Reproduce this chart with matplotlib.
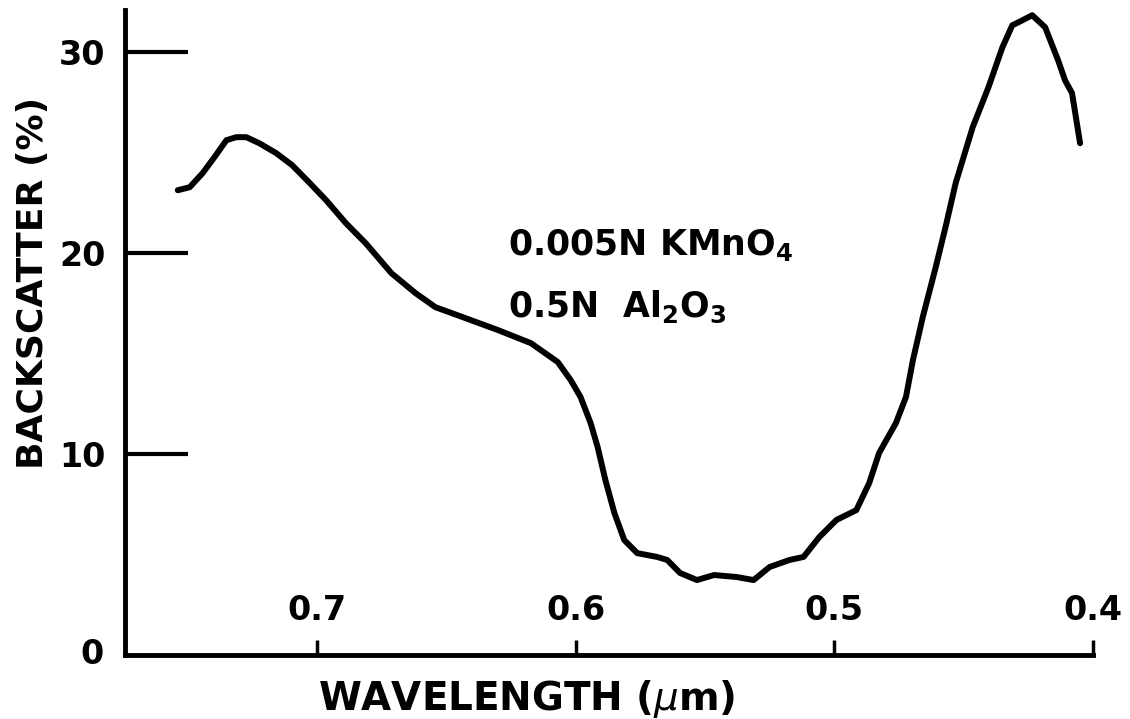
import matplotlib
matplotlib.use("Agg")
import matplotlib.pyplot as plt

# --- DATA ---
wavelength = [0.7538, 0.7492, 0.7442, 0.7396, 0.7350, 0.7312, 0.7273, 0.7223,
              0.7158, 0.7096, 0.7031, 0.6965, 0.6888, 0.6812, 0.6712, 0.6619,
              0.6542, 0.6427, 0.6300, 0.6173, 0.6069, 0.6019, 0.5981, 0.5942,
              0.5915, 0.5885, 0.5850, 0.5812, 0.5762, 0.5685, 0.5646, 0.5596,
              0.5531, 0.5465, 0.5377, 0.5312, 0.5250, 0.5173, 0.5119, 0.5058,
              0.4992, 0.4915, 0.4865, 0.4827, 0.4762, 0.4723, 0.4696, 0.4658,
              0.4608, 0.4570, 0.4531, 0.4465, 0.4404, 0.4350, 0.4312, 0.4288,
              0.4235, 0.4185, 0.4135, 0.4108, 0.4081, 0.4050]
backscatter = [23.13, 23.28, 23.98, 24.78, 25.62, 25.77, 25.77, 25.47,
               24.98, 24.38, 23.53, 22.64, 21.49, 20.50, 19.00, 18.01,
               17.31, 16.77, 16.17, 15.52, 14.58, 13.68, 12.84, 11.54,
               10.35, 8.71, 7.06, 5.72, 5.07, 4.88, 4.73, 4.08,
               3.73, 3.98, 3.88, 3.73, 4.38, 4.73, 4.88, 5.87,
               6.72, 7.21, 8.56, 10.05, 11.54, 12.84, 14.68, 16.82,
               19.30, 21.3, 23.48, 26.27, 28.26, 30.25, 31.34, 31.49,
               31.84, 31.24, 29.60, 28.60, 27.96, 25.47]

x_ticks = [0.7, 0.6, 0.5, 0.4]
x_ticklabels = ["0.7", "0.6", "0.5", "0.4"]
y_ticks = [0, 10, 20, 30]
y_ticklabels = ["0", "10", "20", "30"]

# --- FIGURE ---
fig = plt.figure(figsize=(11.3, 7.19), dpi=100)
ax = fig.add_axes([125 / 1130, 1 - 655 / 719, 968 / 1130, 645 / 719])

ax.plot(wavelength, backscatter, color="black", linewidth=4.3,
        solid_capstyle="round", solid_joinstyle="round")

ax.set_xlim(0.7742, 0.4)
ax.set_ylim(0, 32.1)

for side in ["top", "right"]:
    ax.spines[side].set_visible(False)
for side in ["left", "bottom"]:
    ax.spines[side].set_linewidth(3.5)

ax.set_xticks(x_ticks)
ax.set_xticklabels(x_ticklabels, fontweight="bold")
ax.set_yticks([t for t in y_ticks if t > 0])
ax.set_yticklabels([l for t, l in zip(y_ticks, y_ticklabels) if t > 0],
                   fontweight="bold")

ax.tick_params(axis="y", direction="in", length=45, width=3, pad=14,
               labelsize=24)
ax.tick_params(axis="x", direction="in", length=11, width=2.5, pad=-44,
               labelsize=24)

# the zero sits alone below the corner of the axes
ax.text(-0.022, 0, "0", transform=ax.get_yaxis_transform(), ha="right",
        va="center", fontsize=24, fontweight="bold")

ax.set_xlabel(r"WAVELENGTH ($\mu$m)", fontsize=28, fontweight="bold", va="top")
ax.xaxis.set_label_coords(0.415, -0.036)
ax.set_ylabel("BACKSCATTER (%)", fontsize=26, fontweight="bold")
ax.yaxis.set_label_coords(-0.077, 0.577)

ax.text(0.626, 19.9, r"0.005N KMnO$_{\mathbf{4}}$", fontsize=25,
        fontweight="bold", ha="left", va="baseline")
ax.text(0.626, 16.8, r"0.5N  Al$_{\mathbf{2}}$O$_{\mathbf{3}}$", fontsize=25,
        fontweight="bold", ha="left", va="baseline")

fig.savefig("out.png", dpi=100)
